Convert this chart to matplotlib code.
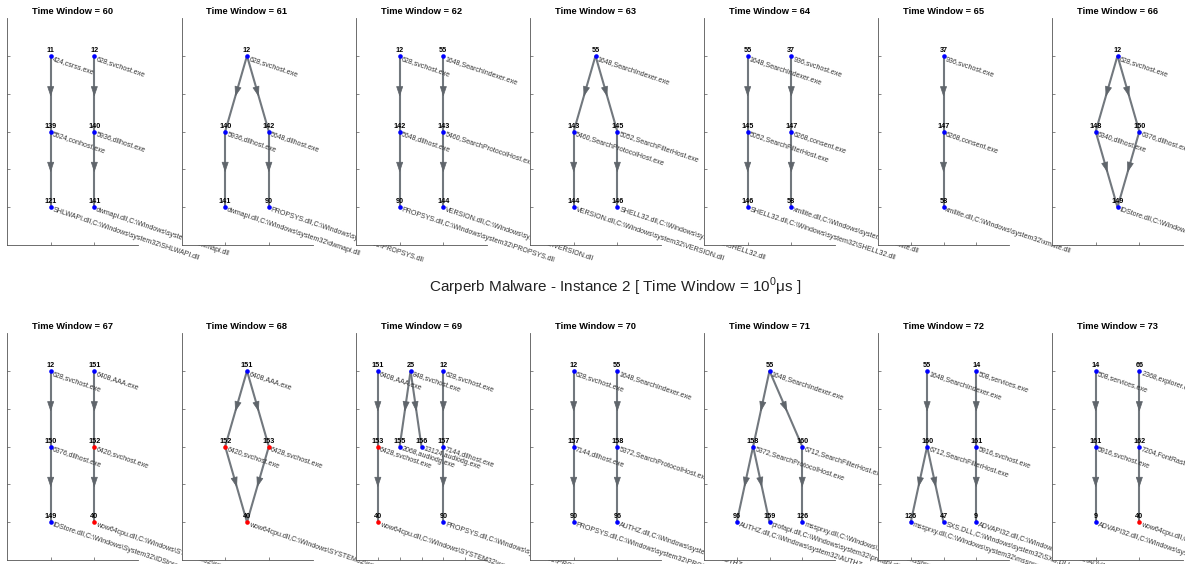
import matplotlib
matplotlib.use('Agg')
import matplotlib.pyplot as plt

plt.rcParams['font.family'] = ['Liberation Sans', 'DejaVu Sans']
plt.rcParams['mathtext.fontset'] = 'custom'
plt.rcParams['mathtext.rm'] = 'Liberation Sans'

# process / dll names by node id (same id -> same label in every window)
node_label = {
    9: "ADVAPI32.dll,C:\\Windows\\system32\\ADVAPI32.dll",
    11: "424,csrss.exe",
    12: "628,svchost.exe",
    14: "508,services.exe",
    25: "848,svchost.exe",
    37: "936,svchost.exe",
    40: "wow64cpu.dll,C:\\Windows\\SYSTEM32\\wow64cpu.dll",
    47: "SXS.DLL,C:\\Windows\\system32\\SXS.DLL",
    55: "1648,SearchIndexer.exe",
    58: "xmllite.dll,C:\\Windows\\system32\\xmllite.dll",
    66: "2368,explorer.exe",
    90: "PROPSYS.dll,C:\\Windows\\system32\\PROPSYS.dll",
    96: "AUTHZ.dll,C:\\Windows\\system32\\AUTHZ.dll",
    121: "SHLWAPI.dll,C:\\Windows\\system32\\SHLWAPI.dll",
    126: "mssprxy.dll,C:\\Windows\\system32\\mssprxy.dll",
    139: "5524,conhost.exe",
    140: "5936,dllhost.exe",
    141: "dwmapi.dll,C:\\Windows\\system32\\dwmapi.dll",
    142: "5648,dllhost.exe",
    143: "5460,SearchProtocolHost.exe",
    144: "VERSION.dll,C:\\Windows\\system32\\VERSION.dll",
    145: "5052,SearchFilterHost.exe",
    146: "SHELL32.dll,C:\\Windows\\system32\\SHELL32.dll",
    147: "6268,consent.exe",
    148: "6340,dllhost.exe",
    149: "IDStore.dll,C:\\Windows\\System32\\IDStore.dll",
    150: "6376,dllhost.exe",
    151: "6408,AAA.exe",
    152: "6420,svchost.exe",
    153: "6428,svchost.exe",
    155: "2068,audiodg.exe",
    156: "13124,audiodg.exe",
    157: "7144,dllhost.exe",
    158: "5372,SearchProtocolHost.exe",
    159: "profapi.dll,C:\\Windows\\system32\\profapi.dll",
    160: "6712,SearchFilterHost.exe",
    161: "5916,svchost.exe",
    162: "7204,FontRaster.exe",
}

windows = list(range(60, 74))

nodes = [
    [11, 12, 139, 140, 121, 141],
    [12, 140, 142, 141, 90],
    [12, 55, 142, 143, 90, 144],
    [55, 143, 145, 144, 146],
    [55, 37, 145, 147, 146, 58],
    [37, 147, 58],
    [12, 148, 150, 149],
    [12, 151, 150, 152, 149, 40],
    [151, 152, 153, 40],
    [151, 25, 12, 153, 155, 156, 157, 40, 90],
    [12, 55, 157, 158, 90, 96],
    [55, 158, 160, 96, 159, 126],
    [55, 14, 160, 161, 126, 47, 9],
    [14, 66, 161, 162, 9, 40],
]

node_x = [
    [1, 2, 1, 2, 1, 2],
    [1.5, 1, 2, 1, 2],
    [1, 2, 1, 2, 1, 2],
    [1.5, 1, 2, 1, 2],
    [1, 2, 1, 2, 1, 2],
    [2, 2, 2],
    [1.5, 1, 2, 1.5],
    [1, 2, 1, 2, 1, 2],
    [1.5, 1, 2, 1.5],
    [1, 2.5, 4, 1, 2, 3, 4, 1, 4],
    [1, 2, 1, 2, 1, 2],
    [2, 1.5, 3, 1, 2, 3],
    [1.5, 3, 1.5, 3, 1, 2, 3],
    [1, 2, 1, 2, 1, 2],
]

node_level = [
    [3, 3, 2, 2, 1, 1],
    [3, 2, 2, 1, 1],
    [3, 3, 2, 2, 1, 1],
    [3, 2, 2, 1, 1],
    [3, 3, 2, 2, 1, 1],
    [3, 2, 1],
    [3, 2, 2, 1],
    [3, 3, 2, 2, 1, 1],
    [3, 2, 2, 1],
    [3, 3, 3, 2, 2, 2, 2, 1, 1],
    [3, 3, 2, 2, 1, 1],
    [3, 2, 2, 1, 1, 1],
    [3, 3, 2, 2, 1, 1, 1],
    [3, 3, 2, 2, 1, 1],
]

edges = [
    [(11, 139), (139, 121), (12, 140), (140, 141)],
    [(12, 140), (12, 142), (140, 141), (142, 90)],
    [(12, 142), (142, 90), (55, 143), (143, 144)],
    [(55, 143), (55, 145), (143, 144), (145, 146)],
    [(55, 145), (145, 146), (37, 147), (147, 58)],
    [(37, 147), (147, 58)],
    [(12, 148), (12, 150), (148, 149), (150, 149)],
    [(12, 150), (150, 149), (151, 152), (152, 40)],
    [(151, 152), (151, 153), (152, 40), (153, 40)],
    [(151, 153), (153, 40), (25, 155), (25, 156), (12, 157), (157, 90)],
    [(12, 157), (157, 90), (55, 158), (158, 96)],
    [(55, 158), (55, 160), (158, 96), (158, 159), (160, 126)],
    [(55, 160), (160, 126), (160, 47), (14, 161), (161, 9)],
    [(14, 161), (161, 9), (66, 162), (162, 40)],
]

red_nodes = [[], [], [], [], [], [], [], [152, 40], [152, 153, 40], [153, 40], [], [], [], [40]]

x_max = [3, 3, 3, 3, 3, 4, 3, 3, 3, 6, 3, 4, 4, 3]

W, H = 1185, 564
fig = plt.figure(figsize=(W / 100, H / 100), dpi=100)

lefts = [7, 181.5, 356, 530, 704, 878, 1052]
ax_w, ax_h = 131, 227
row_bottoms = [245, 560]
edge_col = '#72787e'

for k, tw in enumerate(windows):
    row, col = divmod(k, 7)
    ax = fig.add_axes([lefts[col] / W, (H - row_bottoms[row]) / H, ax_w / W, ax_h / H])
    ax.set_xlim(0, x_max[k])
    ax.set_ylim(0.5, 3.5)
    ax.set_xticks(range(1, x_max[k]))
    ax.set_yticks([1, 1.5, 2, 2.5, 3])
    ax.tick_params(direction='in', length=2.5, width=0.5, colors='#555555',
                   labelbottom=False, labelleft=False)
    for s in ['top', 'right']:
        ax.spines[s].set_visible(False)
    for s in ['left', 'bottom']:
        ax.spines[s].set_color('#555555')
        ax.spines[s].set_linewidth(0.6)
    ax.set_title('Time Window = %d' % tw, fontsize=6.7, fontweight='bold', pad=3)

    pos = {n: (x, y) for n, x, y in zip(nodes[k], node_x[k], node_level[k])}
    for a, b in edges[k]:
        (x0, y0), (x1, y1) = pos[a], pos[b]
        ax.plot([x0, x1], [y0, y1], color=edge_col, lw=1.5, zorder=1, solid_capstyle='butt')
        t0, t1 = 0.42, 0.54
        ax.annotate('', xy=(x0 + t1 * (x1 - x0), y0 + t1 * (y1 - y0)),
                    xytext=(x0 + t0 * (x1 - x0), y0 + t0 * (y1 - y0)),
                    arrowprops=dict(arrowstyle='-|>,head_length=0.65,head_width=0.22',
                                    color='#5f656b', lw=0.5, shrinkA=0, shrinkB=0,
                                    mutation_scale=10), zorder=2)
    for n in nodes[k]:
        x, y = pos[n]
        c = '#ff0000' if n in red_nodes[k] else '#0000ff'
        ax.plot(x, y, 'o', ms=3.3, color=c, mec='none', zorder=3)
        ax.annotate(str(n), (x, y), xytext=(0, 1.2), textcoords='offset points',
                    ha='center', va='bottom', fontsize=5.2, fontweight='bold', zorder=4)
        ax.annotate(node_label[n], (x, y), xytext=(2.2, 0.6), textcoords='offset points',
                    ha='left', va='top', rotation=-18.5, rotation_mode='anchor',
                    fontsize=5, color='#333333', zorder=4, annotation_clip=False)

fig.text(615 / W, 1 - 287 / H, 'Carperb Malware - Instance 2 [ Time Window = 10$^{0}$\u03bcs ]',
         ha='center', va='center', fontsize=11, color='#222222')

fig.savefig('out.png', dpi=100)
